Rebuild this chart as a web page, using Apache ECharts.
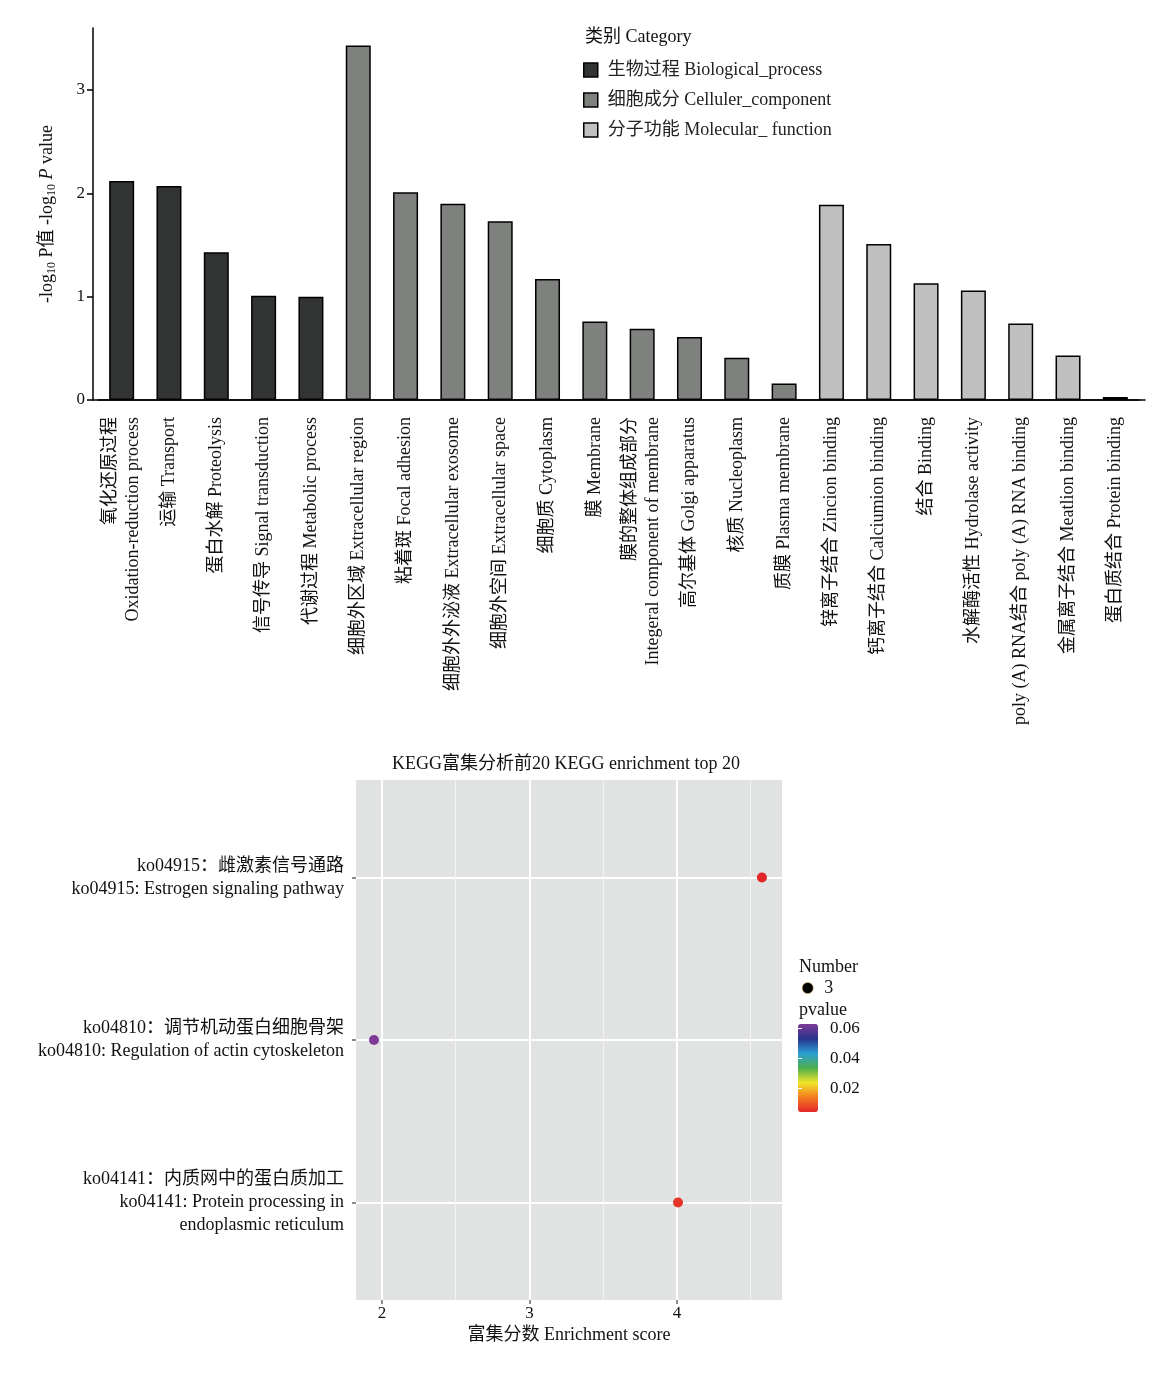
<!DOCTYPE html>
<html>
<head>
<meta charset="utf-8">
<script src="https://cdn.jsdelivr.net/npm/echarts@6/dist/echarts.min.js"></script>
<style>html,body{margin:0;padding:0;background:#fff;}#c{width:1160px;height:1394px;}</style>
</head>
<body>
<div id="c"></div>
<script>
// ---------- GO bar chart data ----------
const goCategories = [
  '氧化还原过程\nOxidation-reduction process', '运输 Transport', '蛋白水解 Proteolysis',
  '信号传导 Signal transduction', '代谢过程 Metabolic process',
  '细胞外区域 Extracellular region', '粘着斑 Focal adhesion', '细胞外外泌液 Extracellular exosome',
  '细胞外空间 Extracellular space', '细胞质 Cytoplasm', '膜 Membrane',
  '膜的整体组成部分\nIntegeral component of membrane', '高尔基体 Golgi apparatus',
  '核质 Nucleoplasm', '质膜 Plasma membrane',
  '锌离子结合 Zincion binding', '钙离子结合 Calciumion binding', '结合 Binding',
  '水解酶活性 Hydrolase activity', 'poly (A) RNA结合 poly (A) RNA binding',
  '金属离子结合 Meatlion binding', '蛋白质结合 Protein binding'
];
const bpValues = [2.12, 2.07, 1.43, 1.01, 1.00];
const ccValues = [3.43, 2.01, 1.90, 1.73, 1.17, 0.76, 0.69, 0.61, 0.41, 0.16];
const mfValues = [1.89, 1.51, 1.13, 1.06, 0.74, 0.43, 0.03];
const groupNames = ['生物过程 Biological_process', '细胞成分 Celluler_component', '分子功能 Molecular_ function'];
const yTicks = [0, 1, 2, 3];

// ---------- KEGG bubble data ----------
const keggTerms = [
  'ko04915：雌激素信号通路\nko04915: Estrogen signaling pathway',
  'ko04810：调节机动蛋白细胞骨架\nko04810: Regulation of actin cytoskeleton',
  'ko04141：内质网中的蛋白质加工\nko04141: Protein processing in\nendoplasmic reticulum'
];
const keggScores = [4.576, 1.946, 4.007];
const keggPvalues = [0.0040, 0.0630, 0.0056];
const keggNumber = ['3'];
const xTicksKegg = [2, 3, 4];
const pTicks = [0.02, 0.04, 0.06];

// build padded bar data
const nBP = bpValues.length, nCC = ccValues.length, nMF = mfValues.length;
const bpData = goCategories.map((c, i) => i < nBP ? bpValues[i] : null);
const ccData = goCategories.map((c, i) => (i >= nBP && i < nBP + nCC) ? ccValues[i - nBP] : null);
const mfData = goCategories.map((c, i) => i >= nBP + nCC ? mfValues[i - nBP - nCC] : null);

const nT = keggTerms.length;
const keggData = keggTerms.map((t, i) => [keggScores[i], nT - i, keggPvalues[i]]);

const FONT = "'Liberation Serif','Noto Sans CJK SC',serif";
const FS = 18;
const chart = echarts.init(document.getElementById('c'), null, {renderer: 'canvas'});

const barStyle = c => ({color: c, borderColor: '#000', borderWidth: 1.5});
const tStyle = {fontSize: FS, fontWeight: 'normal', color: '#111', fontFamily: FONT};

chart.setOption({
  animation: false,
  backgroundColor: '#fff',
  textStyle: {fontFamily: FONT, color: '#111'},
  title: [
    {text: '类别 Category', left: 585, top: 28, padding: 0, textStyle: tStyle},
    {text: 'KEGG富集分析前20 KEGG enrichment top 20', left: 392, top: 755, padding: 0, textStyle: tStyle},
    {text: 'Number', left: 799, top: 958, padding: 0, textStyle: tStyle},
    {text: 'pvalue', left: 799, top: 1001, padding: 0, textStyle: tStyle}
  ],
  legend: [
    {
      data: groupNames, orient: 'vertical', left: 583, top: 61, padding: 0,
      itemWidth: 14, itemHeight: 14, itemGap: 12, icon: 'rect',
      itemStyle: {borderColor: '#000', borderWidth: 1.5},
      textStyle: {fontSize: FS, color: '#222', fontFamily: FONT, padding: [0, 0, 0, 5]},
      selectedMode: false
    },
    {
      data: [{name: keggNumber[0], itemStyle: {color: '#000', borderColor: '#d9a060', borderWidth: 0.5}}],
      left: 802, top: 979, padding: 0, icon: 'circle', itemWidth: 11, itemHeight: 11,
      textStyle: {fontSize: FS, color: '#111', fontFamily: FONT, padding: [0, 0, 0, 6]},
      selectedMode: false
    }
  ],
  grid: [
    {left: 98, top: 28, width: 1041, height: 372},
    {left: 93, top: 28, width: 1052, height: 372},
    {left: 356, top: 780, width: 426, height: 520, show: true, backgroundColor: '#e1e2e2', borderWidth: 0},
    {left: 798, top: 1024, width: 20, height: 88}
  ],
  xAxis: [
    {
      type: 'category', gridIndex: 0, data: goCategories,
      axisLine: {lineStyle: {color: '#000', width: 1.5}},
      axisTick: {show: false},
      axisLabel: {rotate: 90, interval: 0, fontSize: FS, lineHeight: 23, margin: 17, color: '#111', fontFamily: FONT}
    },
    {
      type: 'value', gridIndex: 1, min: 0, max: 1,
      axisLine: {show: true, lineStyle: {color: '#000', width: 1.5}},
      axisTick: {show: false}, axisLabel: {show: false}, splitLine: {show: false}
    },
    {
      type: 'value', gridIndex: 2, min: 1.824, max: 4.712,
      name: '富集分数 Enrichment score', nameLocation: 'middle', nameGap: 26,
      nameTextStyle: {fontSize: FS, color: '#111', fontFamily: FONT},
      axisLine: {show: false},
      axisTick: {show: true, customValues: xTicksKegg, length: 4, lineStyle: {color: '#666', width: 1.5}},
      axisLabel: {customValues: xTicksKegg, fontSize: 17, margin: 5, color: '#111', fontFamily: FONT},
      splitLine: {show: true, lineStyle: {color: '#ffffff', width: 2}}
    },
    {
      type: 'value', gridIndex: 2, min: 1.824, max: 4.712,
      axisLine: {show: false},
      axisTick: {show: false, customValues: [2.5, 3.5, 4.5]},
      axisLabel: {show: false, customValues: [2.5, 3.5, 4.5]},
      splitLine: {show: true, lineStyle: {color: '#f3f3f3', width: 1}}
    },
    {type: 'value', gridIndex: 3, show: false, min: 0, max: 1}
  ],
  yAxis: [
    {
      type: 'value', gridIndex: 0, min: 0, max: 3.6, offset: 5,
      name: '{a|-log}{s|10}{a| P值 -log}{s|10}{i| P}{a| value}',
      nameLocation: 'middle', nameGap: 35, nameRotate: 90,
      nameTextStyle: {
        rich: {
          a: {fontSize: FS, lineHeight: 22, color: '#111', fontFamily: FONT},
          i: {fontSize: FS, lineHeight: 22, color: '#111', fontStyle: 'italic', fontFamily: FONT},
          s: {fontSize: 12, lineHeight: 11, verticalAlign: 'bottom', color: '#111', fontFamily: FONT}
        }
      },
      axisLine: {show: true, lineStyle: {color: '#000', width: 1.5}},
      axisTick: {show: true, length: 6, customValues: yTicks, lineStyle: {color: '#000', width: 1.5}},
      axisLabel: {customValues: yTicks, fontSize: 17, margin: 8, color: '#111', fontFamily: FONT},
      splitLine: {show: false}
    },
    {type: 'value', gridIndex: 1, show: false},
    {
      type: 'value', gridIndex: 2, min: 0.4, max: 3.6,
      axisLine: {show: false},
      axisTick: {show: true, customValues: [1, 2, 3], length: 4, lineStyle: {color: '#666', width: 1.5}},
      axisLabel: {
        customValues: [1, 2, 3], fontSize: FS, lineHeight: 23, margin: 12, color: '#111', fontFamily: FONT,
        formatter: v => keggTerms[nT - Math.round(v)] || ''
      },
      splitLine: {show: true, lineStyle: {color: '#ffffff', width: 2}}
    },
    {
      type: 'value', gridIndex: 3, min: 0.004, max: 0.063, position: 'right', z: 20,
      axisLine: {show: false},
      axisTick: {show: true, inside: true, customValues: pTicks, length: 4, lineStyle: {color: '#fff', width: 1}},
      axisLabel: {customValues: pTicks, fontSize: 17, margin: 12, color: '#111', fontFamily: FONT, formatter: v => v.toFixed(2)},
      splitLine: {show: false}
    },
    {
      type: 'value', gridIndex: 3, min: 0.004, max: 0.063, position: 'left', z: 20,
      axisLine: {show: false},
      axisTick: {show: true, inside: true, customValues: pTicks, length: 4, lineStyle: {color: '#fff', width: 1}},
      axisLabel: {show: false, customValues: pTicks},
      splitLine: {show: false}
    }
  ],
  visualMap: [{
    type: 'continuous', seriesIndex: 3, dimension: 2,
    min: 0.004, max: 0.063, calculable: false, realtime: false,
    left: 798, top: 1024, itemWidth: 20, itemHeight: 88, padding: 0,
    showLabel: false, text: null,
    inRange: {color: ['#e3262a', '#f47c20', '#f2e52a', '#4cae4c', '#2c9fd6', '#27338b', '#7f3a98']}
  }],
  series: [
    {name: groupNames[0], type: 'bar', stack: 'go', xAxisIndex: 0, yAxisIndex: 0, barWidth: 25, data: bpData, itemStyle: barStyle('#323433')},
    {name: groupNames[1], type: 'bar', stack: 'go', xAxisIndex: 0, yAxisIndex: 0, barWidth: 25, data: ccData, itemStyle: barStyle('#7f817f')},
    {name: groupNames[2], type: 'bar', stack: 'go', xAxisIndex: 0, yAxisIndex: 0, barWidth: 25, data: mfData, itemStyle: barStyle('#c0c0c0')},
    {name: keggNumber[0], type: 'scatter', xAxisIndex: 2, yAxisIndex: 2, symbolSize: 10, data: keggData, itemStyle: {opacity: 1}}
  ]
});
</script>
</body>
</html>
